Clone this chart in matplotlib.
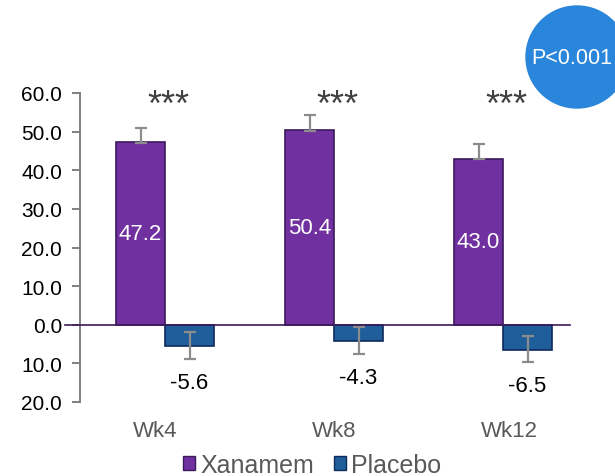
import matplotlib
matplotlib.use("Agg")
import matplotlib.pyplot as plt
from matplotlib.patches import Ellipse, Patch
from matplotlib.ticker import FuncFormatter
import numpy as np

plt.rcParams['font.family'] = ['Liberation Sans', 'DejaVu Sans']

# Data
categories = ["Wk4", "Wk8", "Wk12"]
xanamem = [47.2, 50.4, 43.0]
placebo = [-5.6, -4.3, -6.5]
xanamem_err_up = [3.7, 3.8, 3.7]
xanamem_err_dn = [0.2, 0.2, 0.2]
placebo_err_up = [3.6, 3.6, 3.7]
placebo_err_dn = [3.3, 3.3, 3.2]
significance = ["***", "***", "***"]
y_ticks = [60, 50, 40, 30, 20, 10, 0, -10, -20]

# Styling
PURPLE = "#7030A0"
PURPLE_EDGE = "#3B1A5A"
BLUE = "#1F5E9A"
BLUE_EDGE = "#0E2A5C"
ERR = "#8C8C8C"
GRAY_TXT = "#595959"

fig = plt.figure(figsize=(6.15, 4.77), dpi=100)
ax = fig.add_axes([80 / 615, 1 - 403 / 477, 490 / 615, 309 / 477])

x = np.arange(len(categories))
w = 0.29

ax.bar(x - w / 2, xanamem, width=w, color=PURPLE, edgecolor=PURPLE_EDGE,
       linewidth=1.2, zorder=2)
ax.bar(x + w / 2, placebo, width=w, color=BLUE, edgecolor=BLUE_EDGE,
       linewidth=1.2, zorder=2)

ax.errorbar(x - w / 2, xanamem, yerr=[xanamem_err_dn, xanamem_err_up],
            fmt='none', ecolor=ERR, elinewidth=1.6, capsize=4.5,
            capthick=1.6, zorder=4)
ax.errorbar(x + w / 2, placebo, yerr=[placebo_err_dn, placebo_err_up],
            fmt='none', ecolor=ERR, elinewidth=1.6, capsize=4.5,
            capthick=1.6, zorder=4)

# zero line, extending slightly left of the value axis
ax.axhline(0, xmin=-0.031, xmax=1.0, color=PURPLE_EDGE, linewidth=1.2,
           clip_on=False, zorder=3)

ax.set_xlim(-0.503, 2.396)
ax.set_ylim(-20, 60)

# value labels
for xi, v in zip(x, xanamem):
    ax.text(xi - w / 2, v / 2, f"{v:.1f}", color="white", fontsize=16,
            ha="center", va="center", zorder=5)
for xi, v in zip(x, placebo):
    ax.annotate(f"{v:.1f}", xy=(xi + w / 2, v), xytext=(0, -26),
                textcoords="offset points", ha="center", va="center",
                fontsize=16, color="black", zorder=5)

# significance markers
for xi, s in zip(x, significance):
    ax.text(xi + 0.02, 54.4, s, ha="center", va="baseline", fontsize=26,
            color="#404040")

# axes styling
for side in ("top", "right", "bottom"):
    ax.spines[side].set_visible(False)
ax.spines["left"].set_color("#7F7F7F")
ax.spines["left"].set_linewidth(1.4)
ax.set_yticks(y_ticks)
ax.yaxis.set_major_formatter(FuncFormatter(lambda v, p: f"{abs(v):.1f}"))
ax.tick_params(axis="y", direction="out", length=6, width=1.4,
               color="#7F7F7F", labelsize=15, labelcolor="black", pad=7)

label_shift = [-0.06, 0.0, 0.035]
ax.set_xticks(x + np.array(label_shift))
ax.set_xticklabels(categories)
ax.tick_params(axis="x", length=0, labelsize=16, labelcolor=GRAY_TXT, pad=13)

# legend
handles = [Patch(facecolor=PURPLE, edgecolor=PURPLE_EDGE, label="Xanamem"),
           Patch(facecolor=BLUE, edgecolor=BLUE_EDGE, label="Placebo")]
leg = fig.legend(handles=handles, loc="center", ncol=2,
                 bbox_to_anchor=(312 / 615, 1 - 466 / 477), frameon=False,
                 fontsize=18, handlelength=0.5, handleheight=0.5,
                 handletextpad=0.2, columnspacing=0.8, borderpad=0)
for t in leg.get_texts():
    t.set_color(GRAY_TXT)

# p-value badge
badge = Ellipse((577 / 615, 1 - 58 / 477), 102 / 615, 102 / 477,
                transform=fig.transFigure, color="#2A86DA", zorder=10)
fig.patches.append(badge)
fig.text(572 / 615, 1 - 59 / 477, "P<0.001", color="white", fontsize=15.5,
         ha="center", va="center", zorder=11)

fig.savefig("out.png", dpi=100)
